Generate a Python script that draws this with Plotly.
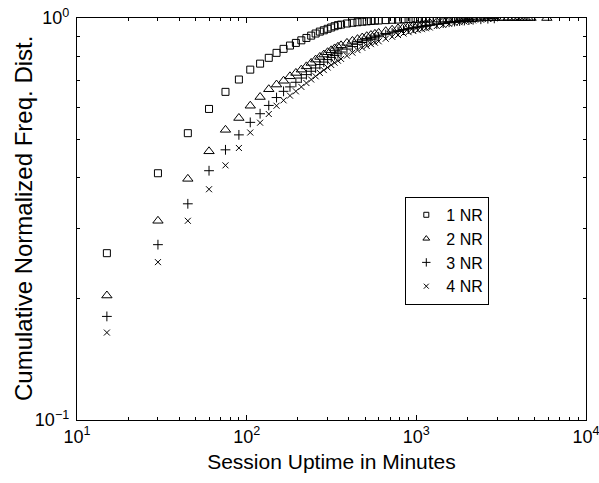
import plotly.graph_objects as go

# Session uptime (minutes) at which the CDF was sampled
minutes = [15, 30, 45, 60, 75, 90, 105, 120, 135, 150, 165, 180, 195, 210, 225, 240,
           255, 270, 285, 300, 315, 330, 345, 360, 390, 420, 450, 480, 510, 540, 570,
           600, 660, 720, 780, 840, 900, 960, 1020, 1080, 1140, 1200, 1320, 1440, 1560,
           1680, 1800, 1920, 2040, 2160, 2400, 2640, 2880]

nr1 = [0.260, 0.411, 0.517, 0.594, 0.655, 0.703, 0.744, 0.770, 0.796, 0.819, 0.838,
       0.854, 0.867, 0.880, 0.892, 0.904, 0.915, 0.925, 0.932, 0.940, 0.947, 0.954,
       0.960, 0.963, 0.969, 0.973, 0.976, 0.979, 0.981, 0.983, 0.985, 0.986, 0.988,
       0.990, 0.991, 0.993, 0.994, 0.995, 0.996, 0.996, 0.997, 0.997, 0.998, 0.998,
       0.999, 0.999, 0.999, 1.0, 1.0, 1.0]

nr2 = [0.204, 0.313, 0.398, 0.466, 0.527, 0.564, 0.605, 0.636, 0.665, 0.683, 0.698,
       0.716, 0.730, 0.744, 0.758, 0.773, 0.788, 0.800, 0.811, 0.822, 0.831, 0.840,
       0.848, 0.855, 0.867, 0.877, 0.886, 0.894, 0.901, 0.907, 0.913, 0.918, 0.927,
       0.935, 0.942, 0.948, 0.953, 0.958, 0.962, 0.966, 0.969, 0.972, 0.977, 0.981,
       0.985, 0.988, 0.990, 0.992, 0.994, 0.995, 0.997, 0.998, 0.999]
# sparse long sessions of 2 NR
nr2_tail_minutes = [3120, 3300, 3480, 3660, 3840, 4020, 4200, 4380, 4560, 4740, 5880]
nr2_tail = [1.0, 1.0, 1.0, 1.0, 1.0, 1.0, 1.0, 1.0, 1.0, 1.0, 1.0]

nr3 = [0.181, 0.273, 0.345, 0.417, 0.470, 0.512, 0.550, 0.578, 0.606, 0.634, 0.657,
       0.674, 0.692, 0.709, 0.723, 0.737, 0.751, 0.766, 0.777, 0.788, 0.798, 0.807,
       0.815, 0.823, 0.837, 0.849, 0.860, 0.869, 0.878, 0.885, 0.892, 0.898, 0.909,
       0.918, 0.926, 0.933, 0.939, 0.944, 0.949, 0.953, 0.957, 0.960, 0.966, 0.971,
       0.976, 0.980, 0.983, 0.986, 0.988, 0.990, 0.993, 0.996, 0.998]

nr4 = [0.165, 0.247, 0.313, 0.375, 0.430, 0.475, 0.519, 0.549, 0.577, 0.605, 0.624,
       0.641, 0.657, 0.674, 0.689, 0.703, 0.716, 0.730, 0.742, 0.753, 0.764, 0.774,
       0.783, 0.791, 0.806, 0.820, 0.832, 0.843, 0.852, 0.861, 0.868, 0.875, 0.888,
       0.898, 0.907, 0.915, 0.922, 0.928, 0.933, 0.938, 0.943, 0.947, 0.955, 0.961,
       0.967, 0.972, 0.976, 0.980, 0.983, 0.986, 0.991, 0.995, 0.998]

series_names = ["1 NR", "2 NR", "3 NR", "4 NR"]
symbols = ["square-open", "triangle-up-open", "cross-thin-open", "x-thin-open"]
sizes = [7, 9, 7, 6]
legend_sizes = [5, 6, 6, 5]

x_major = [10, 100, 1000, 9999.9]
x_major_text = ["10<sup>1</sup>", "10<sup>2</sup>", "10<sup>3</sup>", "10<sup>4</sup>"]
x_minor = [20, 30, 40, 50, 60, 70, 80, 90, 200, 300, 400, 500, 600, 700, 800, 900,
           2000, 3000, 4000, 5000, 6000, 7000, 8000, 9000]
y_major = [0.1, 1]
y_major_text = ["10<sup>\u22121</sup>", "10<sup>0</sup>"]
y_minor = [0.2, 0.3, 0.4, 0.5, 0.6, 0.7, 0.8, 0.9]

x_title = "Session Uptime in Minutes"
y_title = "Cumulative Normalized Freq. Dist."

FONT = "Liberation Sans, Arial, Helvetica, sans-serif"

xs = [minutes[:len(nr1)], minutes[:len(nr2)] + nr2_tail_minutes,
      minutes[:len(nr3)], minutes[:len(nr4)]]
ys = [nr1, nr2 + nr2_tail, nr3, nr4]

fig = go.Figure()
for i in range(4):
    fig.add_trace(go.Scatter(x=xs[i], y=ys[i], mode="markers", name=series_names[i],
                             showlegend=False, legendgroup=series_names[i],
                             marker=dict(symbol=symbols[i], size=sizes[i], color="black",
                                         line=dict(width=1, color="black"))))
# legend entries (smaller symbols, as in the reference legend)
for i in range(4):
    fig.add_trace(go.Scatter(x=[None], y=[None], mode="markers", name=series_names[i],
                             legendgroup=series_names[i],
                             marker=dict(symbol=symbols[i], size=legend_sizes[i], color="black",
                                         line=dict(width=1, color="black"))))

axis_common = dict(type="log", showgrid=False, zeroline=False, showline=True,
                   linecolor="black", linewidth=1.3, mirror="ticks", ticks="inside",
                   ticklen=5, tickcolor="black", tickwidth=1,
                   ticklabeloverflow="allow",
                   tickfont=dict(family=FONT, size=18, color="black"))

fig.update_xaxes(**axis_common, range=[1, 4], tickmode="array", tickvals=x_major,
                 ticktext=x_major_text,
                 minor=dict(tickvals=x_minor, ticks="inside", ticklen=3, tickcolor="black"),
                 title=dict(text=x_title,
                            font=dict(family=FONT, size=21, color="black"), standoff=8))
fig.update_yaxes(**axis_common, range=[-1, 0], tickmode="array", tickvals=y_major,
                 ticktext=y_major_text, ticklabelstandoff=3,
                 minor=dict(tickvals=y_minor, ticks="inside", ticklen=3, tickcolor="black"))

# y-axis title placed as rotated text so it sits where the reference has it
fig.add_annotation(text=y_title, textangle=-90, xref="paper", yref="paper",
                   x=-0.106, y=0.5, xanchor="center", yanchor="middle", showarrow=False,
                   font=dict(family=FONT, size=24, color="black"))

fig.update_layout(
    width=599, height=483,
    margin=dict(l=77, r=13, t=18, b=63, autoexpand=False),
    paper_bgcolor="white", plot_bgcolor="white",
    showlegend=True,
    legend=dict(x=0.645, y=0.555, xanchor="left", yanchor="top",
                bgcolor="white", bordercolor="black", borderwidth=1,
                font=dict(family=FONT, size=16, color="black"),
                itemsizing="trace", tracegroupgap=0, itemwidth=30),
)

fig.write_html("out.html", config={"displayModeBar": False},
               post_script="document.body.style.margin='0px';"
                           "document.body.style.overflow='hidden';")
